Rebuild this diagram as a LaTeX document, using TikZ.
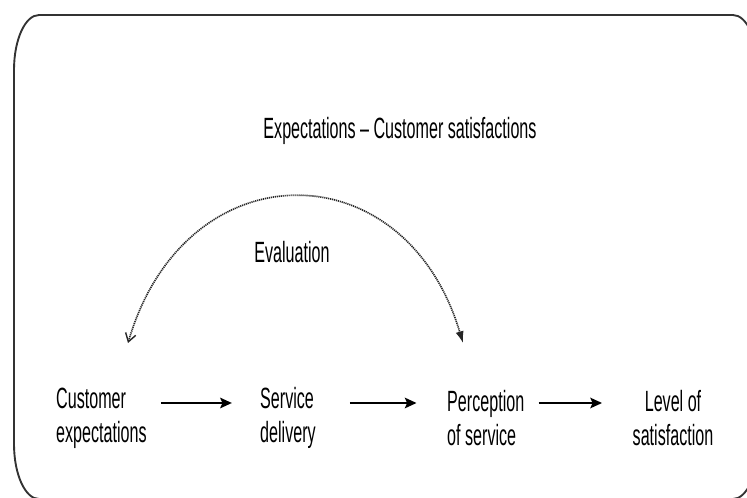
\documentclass[tikz,border=0pt]{standalone}
\usepackage{fontspec}
\setmainfont{Liberation Sans}[FakeStretch=0.55]
\usepackage{tikz}
\usetikzlibrary{arrows.meta,calc,positioning}

\begin{document}
\begin{tikzpicture}[x=0.03cm,y=0.03cm,
		lbl/.style={inner sep=0pt,font=\fontsize{25}{29}\selectfont},
		flow/.style={line width=1.8pt,-{Stealth[length=10pt,width=9pt,inset=2pt]}},
		evalarc/.style={line width=1.4pt,draw=black!85,dash pattern=on 1pt off 0.7pt,
			{Straight Barb[length=7pt,width=9pt,line width=1.2pt]}-{Latex[length=10pt,width=7pt]}},
		frame/.style={line width=1.6pt,draw=black!80}]
				\useasboundingbox (0,0) rectangle (747,497);
				\clip (0,0) rectangle (747,497);
				% outer frame
				\draw[frame] (14,427) -- (14,53)
					arc[start angle=180,end angle=270,x radius=25,y radius=55] -- (733,-2)
					arc[start angle=270,end angle=360,x radius=25,y radius=55] -- (758,427)
					arc[start angle=0,end angle=90,x radius=25,y radius=55] -- (39,482)
					arc[start angle=90,end angle=180,x radius=25,y radius=55] -- cycle;
				\node[lbl] (title) at (400,366) {Expectations -- Customer satisfactions};
				\node[lbl] (eval) at (292,245) {Evaluation};
				\node[lbl,anchor=west,align=left] (ce) at (56,79) {Customer\\expectations};
				\node[lbl,anchor=west,align=left] (sd) at (260,79) {Service\\delivery};
				\node[lbl,anchor=west,align=left] (pc) at (447,79) {Perception\\of service};
				\node[lbl,align=center] (lv) at (673,79) {Level of\\satisfaction};
				\coordinate (el) at (128,154);
				\coordinate (er) at (463,154);
				\draw[evalarc] (el) .. controls (185,349) and (405,349) .. (er);
				\draw[flow,shorten <=12pt,shorten >=24pt] ([yshift=0.45cm]ce.east) -- ([yshift=0.45cm]sd.west);
				\draw[flow,shorten <=29pt,shorten >=26pt] ([yshift=0.45cm]sd.east) -- ([yshift=0.45cm]pc.west);
				\draw[flow,shorten <=12pt,shorten >=26pt] ([yshift=0.45cm]pc.east) -- ([yshift=0.45cm]lv.west);
	\end{tikzpicture}
\end{document}
